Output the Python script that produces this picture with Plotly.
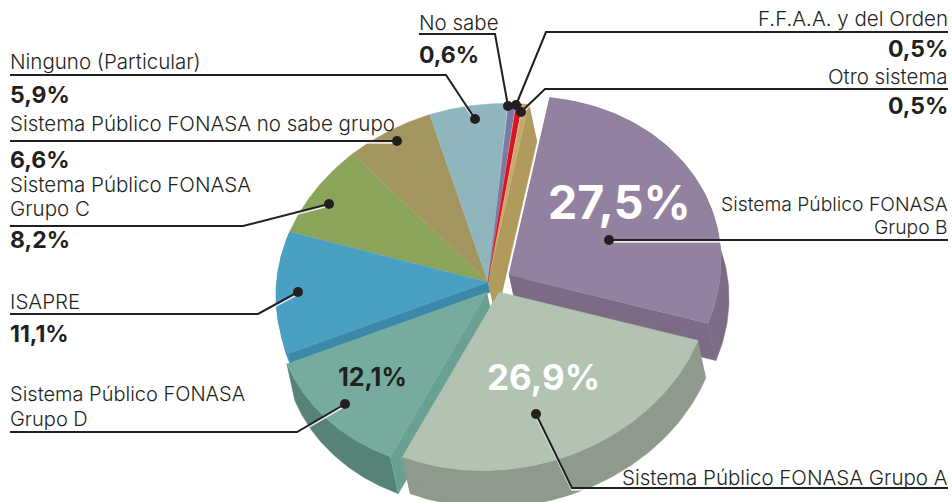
import numpy as np
import plotly.graph_objects as go

# ---- data (clockwise from the top of the pie) ----
categories = ["Otro sistema", "Sistema Público FONASA Grupo B", "Sistema Público FONASA Grupo A",
              "Sistema Público FONASA Grupo D", "ISAPRE", "Sistema Público FONASA Grupo C",
              "Sistema Público FONASA no sabe grupo", "Ninguno (Particular)", "No sabe",
              "F.F.A.A. y del Orden"]
values = [0.5, 27.5, 26.9, 12.1, 11.1, 8.2, 6.6, 5.9, 0.6, 0.5]

# ---- styling ----
top_col = ["#C9A96B", "#9282A0", "#B3C3B1", "#75AC9F", "#4AA0C2", "#8AA45A", "#A3955F", "#8FB6BD", "#7A7BA5", "#D8151F"]
rim_col = ["#B09A5C", "#7C6B85", "#8E9A8C", "#558378", "#3C88A8", "#8AA45A", "#A3955F", "#8FB6BD", "#7A7BA5", "#D8151F"]
cut_col = ["#B09A5C", "#7C6B85", "#8E9A8C", "#68A093", "#3C88A8", "#8AA45A", "#A3955F", "#8FB6BD", "#7A7BA5", "#D8151F"]
apex = {1: (509, 275), 2: (499, 292), 3: (487, 292)}
base = (488, 282)
RX, RY, TILT, START = 212, 178, -0.065, 9.3
EXTR = (8, 37)
depth = {0: 1.0, 1: 1.0, 2: 1.0, 3: 1.0, 4: 0.28}
draw_order = [0, 5, 6, 7, 8, 9, 4, 1, 3, 2]
INK = "#231F20"
FONT = "Inter"

total = sum(values)
edges = START + np.cumsum([0] + values) * 360 / total


def xy(i, deg):
    cx, cy = apex.get(i, base)
    t = np.radians(deg)
    x = RX * np.sin(t)
    y = -RY * np.cos(t) + TILT * x
    return cx + x, cy + y


fig = go.Figure()


def poly(xs, ys, col):
    fig.add_trace(go.Scatter(x=list(xs), y=list(ys), mode="lines", fill="toself", fillcolor=col,
                             line=dict(width=0.5, color=col), hoverinfo="skip", showlegend=False))


for i in draw_order:
    a, b = edges[i], edges[i + 1]
    th = np.linspace(a, b, 80)
    ax, ay = xy(i, th)
    cx, cy = apex.get(i, base)
    d = depth.get(i, 0)
    ex, ey = EXTR[0] * d, EXTR[1] * d
    if d:
        # outer wall
        poly(np.r_[ax, ax[::-1] + ex], np.r_[ay, ay[::-1] + ey], rim_col[i])
        # visible radial wall(s)
        faces = {0: [-1], 1: [0, -1], 2: [-1], 3: [0], 4: [0]}[i]
        for k in faces:
            poly([cx, ax[k], ax[k] + ex, cx + ex], [cy, ay[k], ay[k] + ey, cy + ey], cut_col[i])
    poly(np.r_[cx, ax], np.r_[cy, ay], top_col[i])


def pct(name):
    return f"{values[categories.index(name)]:.1f}".replace(".", ",") + "%"


def note(x, y, text, size=20.5, bold=False, anchor="left", color=INK):
    fig.add_annotation(x=x, y=y, text=text, showarrow=False, xanchor=anchor, yanchor="middle", align=anchor,
                       font=dict(family=FONT, size=size, color=color, weight=700 if bold else 300))


leaders = [
    [(419, 34), (495, 34), (508, 106)],
    [(948, 32), (546, 32), (516, 105)],
    [(948, 89), (545, 89), (521, 112)],
    [(10, 75), (446, 75), (475, 119)],
    [(10, 141), (397, 141)],
    [(10, 226), (243, 226), (329, 204)],
    [(10, 314), (258, 314), (298, 292)],
    [(10, 432), (297, 432), (345, 404)],
    [(948, 488), (572, 488), (536, 414)],
    [(948, 240), (609, 240)],
]
for path in leaders:
    xs, ys = zip(*path)
    fig.add_trace(go.Scatter(x=xs, y=[v + 1.8 for v in ys], mode="lines", line=dict(color="rgba(255,255,255,0.8)", width=2),
                             hoverinfo="skip", showlegend=False))
    fig.add_trace(go.Scatter(x=xs, y=ys, mode="lines", line=dict(color=INK, width=2), hoverinfo="skip", showlegend=False))
    fig.add_trace(go.Scatter(x=[xs[-1]], y=[ys[-1]], mode="markers", marker=dict(color=INK, size=10),
                             hoverinfo="skip", showlegend=False))

# left labels
note(8, 61, "Ninguno (Particular)")
note(8, 95, pct("Ninguno (Particular)"), 23, True)
note(8, 123, "Sistema Público FONASA no sabe grupo")
note(8, 160, pct("Sistema Público FONASA no sabe grupo"), 23, True)
note(8, 184, "Sistema Público FONASA")
note(8, 208, "Grupo C")
note(8, 240, pct("Sistema Público FONASA Grupo C"), 23, True)
note(8, 301, "ISAPRE")
note(8, 334, pct("ISAPRE"), 23, True)
note(8, 394, "Sistema Público FONASA", 20)
note(8, 418.5, "Grupo D", 20)
note(417, 22, "No sabe")
note(417, 55, pct("No sabe"), 23, True)
# right labels
note(950, 18, "F.F.A.A. y del Orden", anchor="right")
note(950, 49, pct("F.F.A.A. y del Orden"), 23, True, "right")
note(950, 76, "Otro sistema", anchor="right")
note(950, 106, pct("Otro sistema"), 23, True, "right")
note(950, 203.5, "Sistema Público FONASA", 19.3, anchor="right")
note(950, 227, "Grupo B", 19.3, anchor="right")
note(950, 477, "Sistema Público FONASA Grupo A", anchor="right")
# inside labels
note(619, 202, pct("Sistema Público FONASA Grupo B"), 46.5, True, "center", "#FFFFFF")
note(543, 377, pct("Sistema Público FONASA Grupo A"), 35, True, "center", "#FFFFFF")
note(372, 377, pct("Sistema Público FONASA Grupo D"), 25, True, "center")

fig.update_layout(
    width=952, height=502, margin=dict(l=0, r=0, t=0, b=0), autosize=False,
    paper_bgcolor="white", plot_bgcolor="white", showlegend=False,
    xaxis=dict(range=[0, 952], visible=False, fixedrange=True),
    yaxis=dict(range=[502, 0], visible=False, fixedrange=True),
)
fig.write_html("out.html", config={"displayModeBar": False},
               post_script="document.body.style.margin='0';document.body.style.overflow='hidden';")
